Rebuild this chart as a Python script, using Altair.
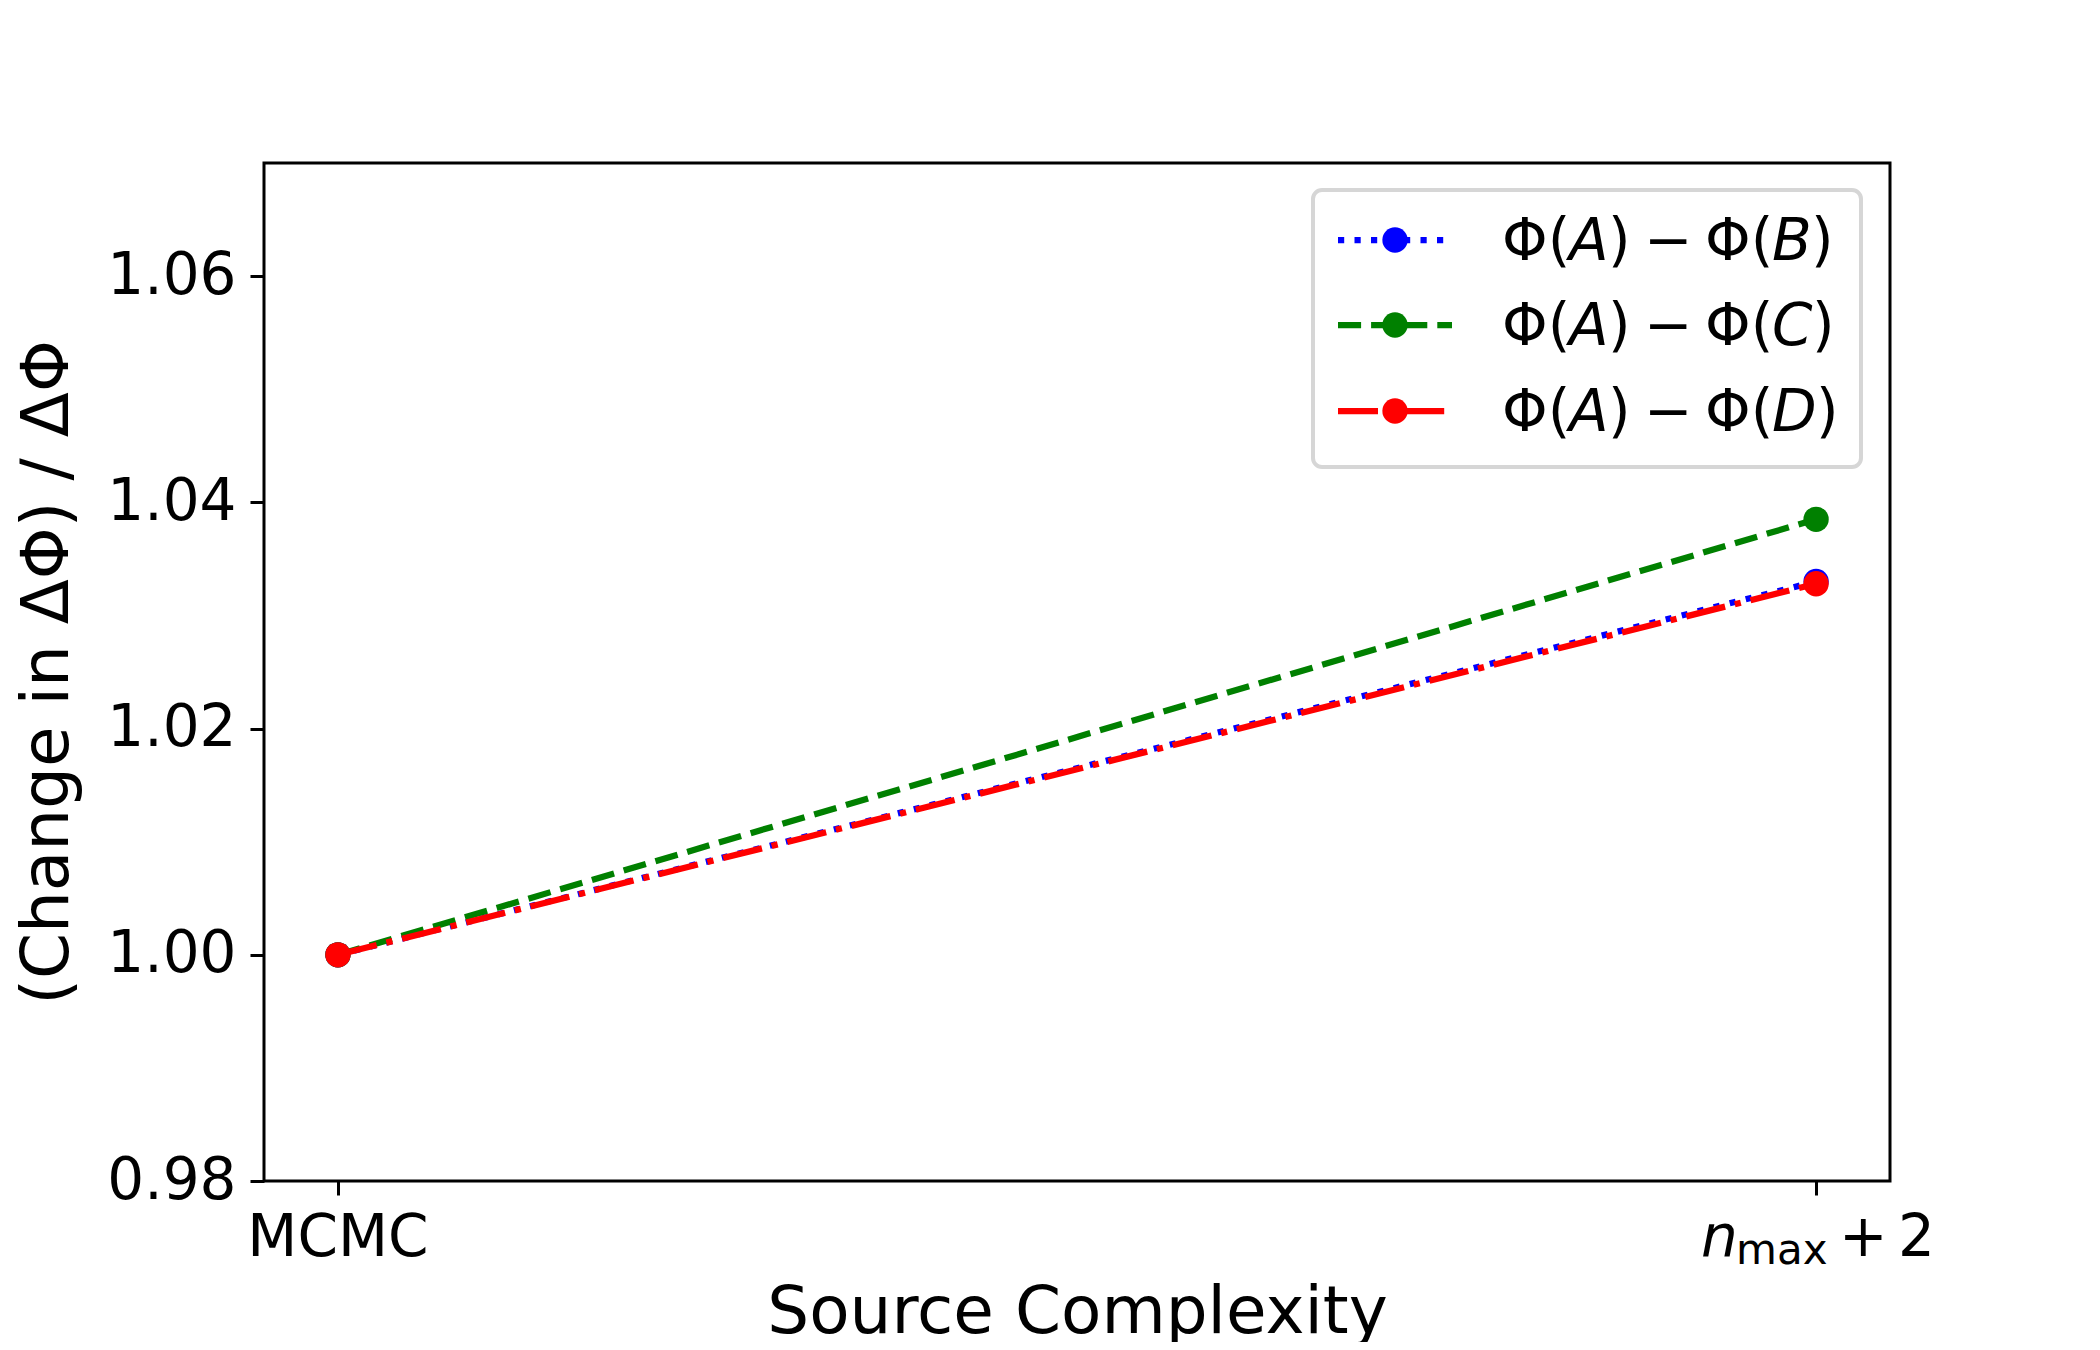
import altair as alt
import pandas as pd

# ---------------- data ----------------
categories = ["MCMC", "n_max + 2"]
x_pos = [0, 1]
series = ["Φ(A) − Φ(B)", "Φ(A) − Φ(C)", "Φ(A) − Φ(D)"]
letters = ["B", "C", "D"]
vals_B = [1.000, 1.0330]
vals_C = [1.000, 1.0385]
vals_D = [1.000, 1.0328]
colors = ["#0000ff", "#008000", "#ff0000"]
dashes = [[6.2, 10.3], [23.1, 10.0], [40.0, 10.0, 6.2, 10.0]]
y_ticks = [0.98, 1.00, 1.02, 1.04, 1.06]

W, H = 1626, 1018
FONT = "DejaVu Sans"
TICK_FS = 58
TITLE_FS = 66

all_vals = [vals_B, vals_C, vals_D]

X = alt.X(
    "x:Q",
    scale=alt.Scale(domain=[-0.05, 1.05], nice=False, zero=False),
    axis=alt.Axis(
        values=x_pos, labels=False, ticks=True, tickSize=14, domain=False, grid=False,
        title="Source Complexity", titleFont=FONT, titleFontSize=TITLE_FS,
        titleFontWeight="normal", titleBaseline="alphabetic", titleY=151,
        titleX=W / 2, titleAlign="center",
    ),
)
Y = alt.Y(
    "y:Q",
    scale=alt.Scale(domain=[0.98, 1.07], nice=False, zero=False),
    axis=alt.Axis(
        values=y_ticks, format=".2f", labelFont=FONT, labelFontSize=TICK_FS,
        tickSize=14, labelPadding=14, grid=False, domain=False,
        title="(Change in ΔΦ) / ΔΦ", titleFont=FONT, titleFontSize=TITLE_FS,
        titleFontWeight="normal", titleAngle=270, titleX=-217, titleY=H / 2,
        titleAlign="center", titleBaseline="middle",
    ),
)

layers = []
for i, s in enumerate(series):
    df = pd.DataFrame({"x": x_pos, "y": all_vals[i], "series": s})
    layers.append(
        alt.Chart(df).mark_line(color=colors[i], strokeWidth=6.25, strokeDash=dashes[i])
        .encode(x=X, y=Y)
    )
    layers.append(
        alt.Chart(df).mark_circle(color=colors[i], size=640, opacity=1)
        .encode(x=X, y=Y)
    )

# x tick labels (MCMC and n_max + 2, with italic n and subscript)
lab_df = pd.DataFrame({"x": x_pos, "label": categories})
BASE_Y = 1093
layers.append(
    alt.Chart(lab_df).transform_filter("datum.x == 0")
    .mark_text(font=FONT, fontSize=TICK_FS, align="center", baseline="alphabetic", color="black")
    .encode(x=X, y=alt.value(BASE_Y), text="label:N")
)
nmax_parts = [
    ("n", -115, 0, TICK_FS, "italic"),
    ("max", -80, 8, 42, "normal"),
    ("+", 23, 0, TICK_FS, "normal"),
    ("2", 82, 0, TICK_FS, "normal"),
]
for txt, dx, dy, fs, style in nmax_parts:
    layers.append(
        alt.Chart(lab_df).transform_filter("datum.x == 1")
        .mark_text(font=FONT, fontSize=fs, fontStyle=style, align="left",
                   baseline="alphabetic", color="black", dx=dx, dy=dy, text=txt)
        .encode(x=X, y=alt.value(BASE_Y))
    )

# ---------------- legend ----------------
one = pd.DataFrame({"k": [0]})
layers.append(
    alt.Chart(one).mark_rect(fill="white", fillOpacity=0.8, stroke="#d6d6d6",
                             strokeWidth=4, cornerRadius=9)
    .encode(x=alt.value(1049), x2=alt.value(1597), y=alt.value(27), y2=alt.value(304))
)
row_y = [77, 162, 248]
close_x = {"B": 1547, "C": 1548, "D": 1552}
for i, s in enumerate(series):
    ry = row_y[i]
    layers.append(
        alt.Chart(one).mark_rule(color=colors[i], strokeWidth=6.25, strokeDash=dashes[i])
        .encode(x=alt.value(1074), x2=alt.value(1188), y=alt.value(ry))
    )
    layers.append(
        alt.Chart(one).mark_circle(color=colors[i], size=640, opacity=1)
        .encode(x=alt.value(1131), y=alt.value(ry))
    )
    pieces = [
        ("Φ(", 1238, "normal"),
        ("A", 1305, "italic"),
        (")", 1344, "normal"),
        ("−", 1380, "normal"),
        ("Φ(", 1441, "normal"),
        (letters[i], 1508, "italic"),
        (")", close_x[letters[i]], "normal"),
    ]
    for txt, px, style in pieces:
        layers.append(
            alt.Chart(one).mark_text(font=FONT, fontSize=TICK_FS, fontStyle=style,
                                     align="left", baseline="alphabetic",
                                     color="black", text=txt)
            .encode(x=alt.value(px), y=alt.value(ry + 20))
        )

chart = (
    alt.layer(*layers)
    .properties(
        width=W, height=H,
        autosize=alt.AutoSizeParams(type="none"),
        padding={"left": 256, "top": 155, "right": 202, "bottom": 161},
        background="white",
    )
    .configure_view(stroke="black", strokeWidth=3)
    .configure_axis(tickColor="black", tickWidth=3, labelColor="black", titleColor="black")
)

chart.save("out.html", embed_options={"renderer": "svg", "actions": False})
